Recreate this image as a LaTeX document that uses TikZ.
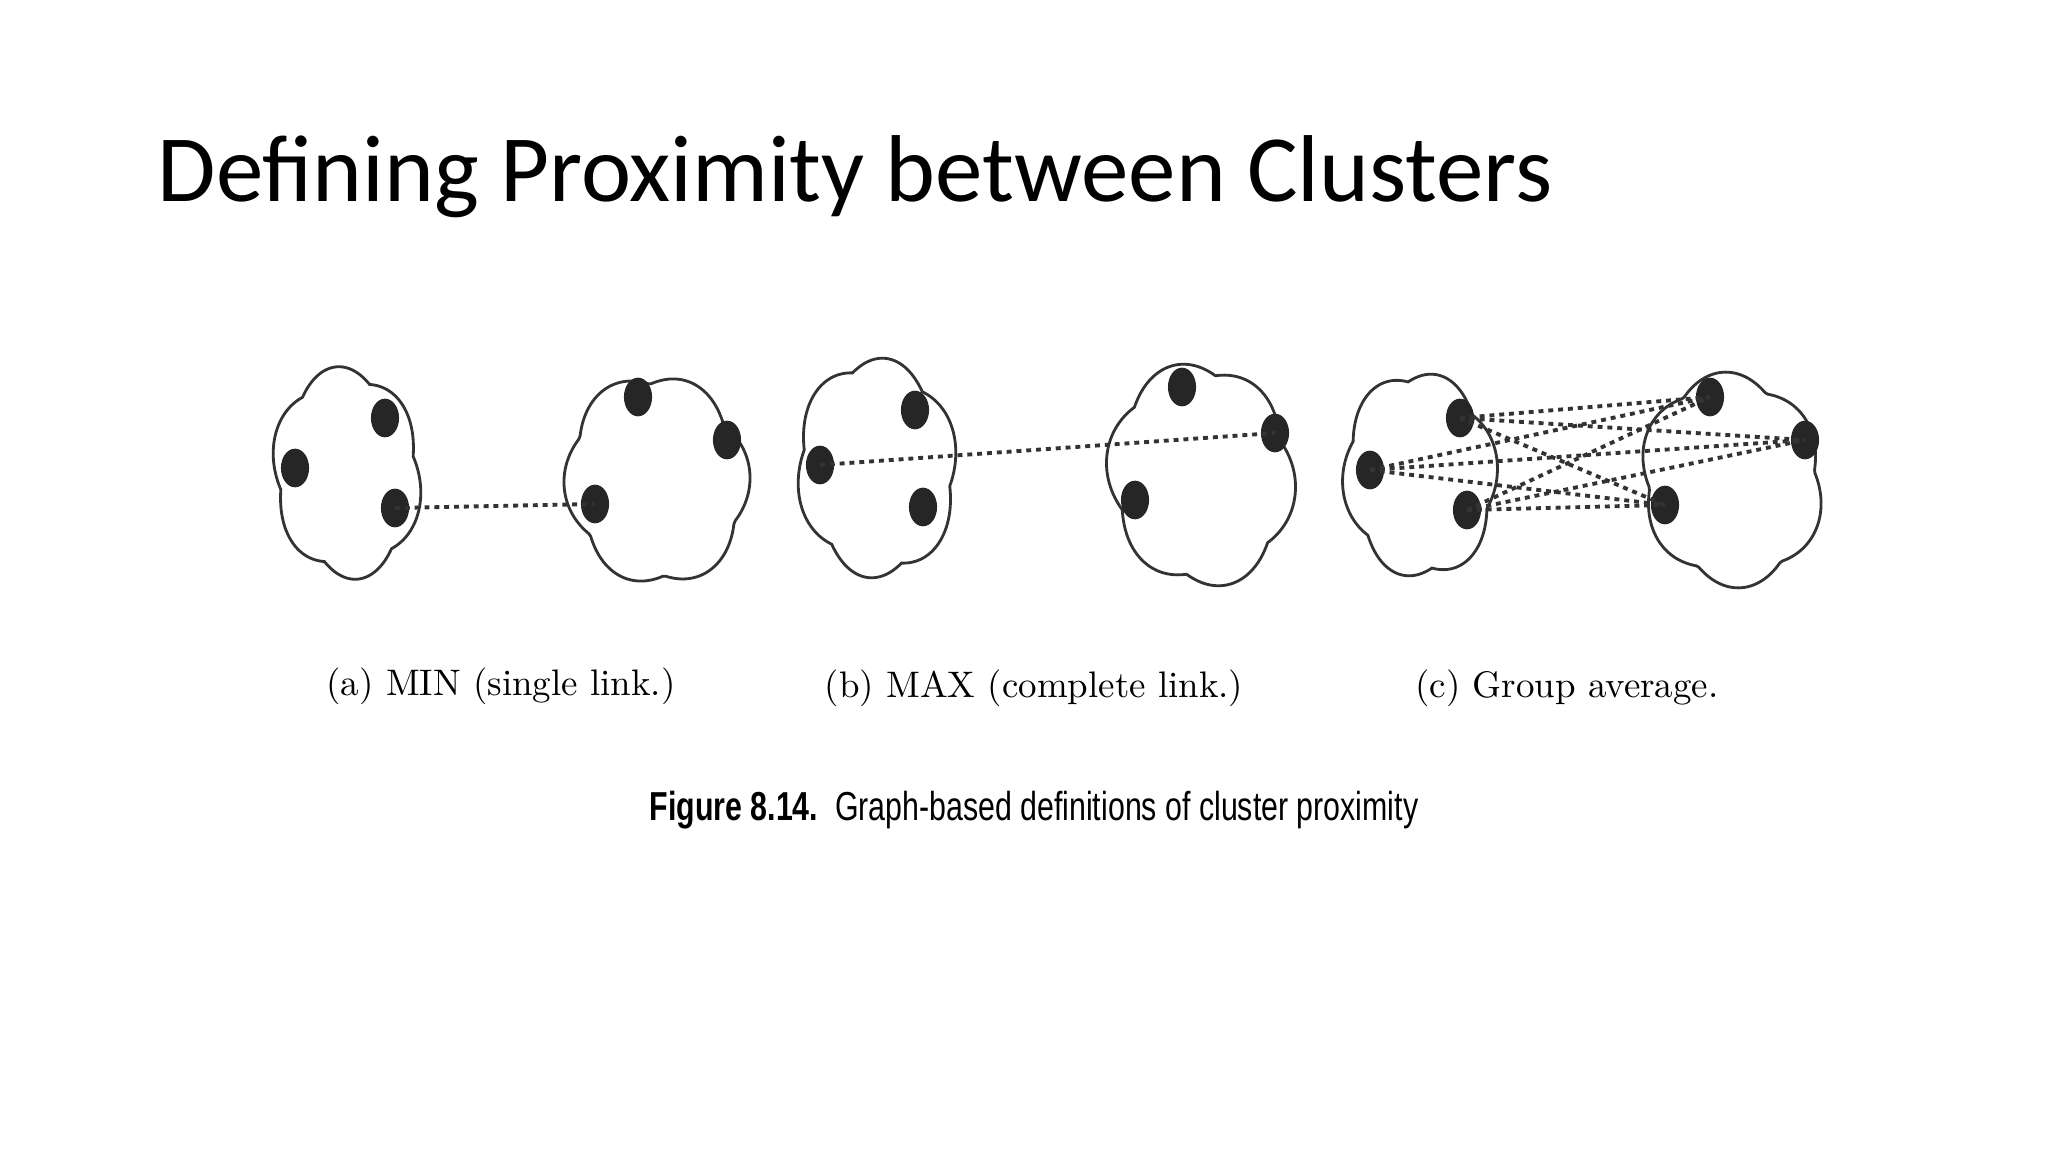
\documentclass[tikz,border=0pt]{standalone}
\usepackage{fontspec}
\usetikzlibrary{shapes.geometric}
\newfontfamily\titlefont{Carlito}
\newfontfamily\capfont{Liberation Sans}
\begin{document}
\begin{tikzpicture}[x=0.01cm,y=-0.01cm,
  pt/.style={ellipse,fill=black!85,inner sep=0pt,minimum width=8,minimum height=11},
  link/.style={line width=1.1pt,dash pattern=on 1.4pt off 1.4pt,black!80},
  cloudline/.style={line width=0.8pt,black!80}]
\useasboundingbox (0,0) rectangle (2048,1152);
\fill[white] (0,0) rectangle (2048,1152);
\node[anchor=base west,inner sep=0pt,font=\titlefont\fontsize{27}{30}\selectfont] (title) at (157,202) {Defining Proximity between Clusters};
% clouds
\newcommand{\mycloud}[5]{%
  \draw[cloudline] plot[samples=180,domain=0:358] ({#1+#3*(0.9+0.1*abs(sin(3*(\x+#5)))+0.025*sin(2*\x+#5))*cos(\x)},{#2+#4*(0.9+0.1*abs(sin(3*(\x+#5)))+0.025*sin(2*\x+#5))*sin(\x)}) -- cycle;}
\mycloud{347}{473}{75}{107}{10}
\mycloud{657}{480}{92}{108}{35}
\mycloud{877}{468}{80}{113}{50}
\mycloud{1201}{475}{94}{114}{20}
\mycloud{1420}{475}{77}{106}{40}
\mycloud{1732}{480}{92}{108}{5}
% points
\node[pt] (a11) at (385,418) {};
\node[pt] (a12) at (295,468) {};
\node[pt] (a13) at (395,508) {};
\node[pt] (a21) at (638,397) {};
\node[pt] (a22) at (727,440) {};
\node[pt] (a23) at (595,504) {};
\node[pt] (b11) at (915,410) {};
\node[pt] (b12) at (820,465) {};
\node[pt] (b13) at (923,507) {};
\node[pt] (b21) at (1182,387) {};
\node[pt] (b22) at (1275,433) {};
\node[pt] (b23) at (1135,500) {};
\node[pt] (c11) at (1460,418) {};
\node[pt] (c12) at (1370,470) {};
\node[pt] (c13) at (1467,510) {};
\node[pt] (c21) at (1710,397) {};
\node[pt] (c22) at (1805,440) {};
\node[pt] (c23) at (1665,505) {};
\draw[link] (a13.center) -- (a23.center);
\draw[link] (b12.center) -- (b22.center);
\foreach \i in {1,2,3}{\foreach \j in {1,2,3}{\draw[link] (c1\i.center) -- (c2\j.center);}}
% labels
\node[font=\fontsize{10.5}{12}\selectfont] (la) at (501,686) {(a) MIN (single link.)};
\node[font=\fontsize{10.5}{12}\selectfont] (lb) at (1034,688) {(b) MAX (complete link.)};
\node[font=\fontsize{10.5}{12}\selectfont] (lc) at (1567,688) {(c) Group average.};
\node[font=\capfont\fontsize{11.5}{13}\selectfont] (cap) at (1034,810) {\scalebox{0.75}[1]{\textbf{Figure 8.14.}\ \ Graph-based definitions of cluster proximity}};
\end{tikzpicture}
\end{document}
